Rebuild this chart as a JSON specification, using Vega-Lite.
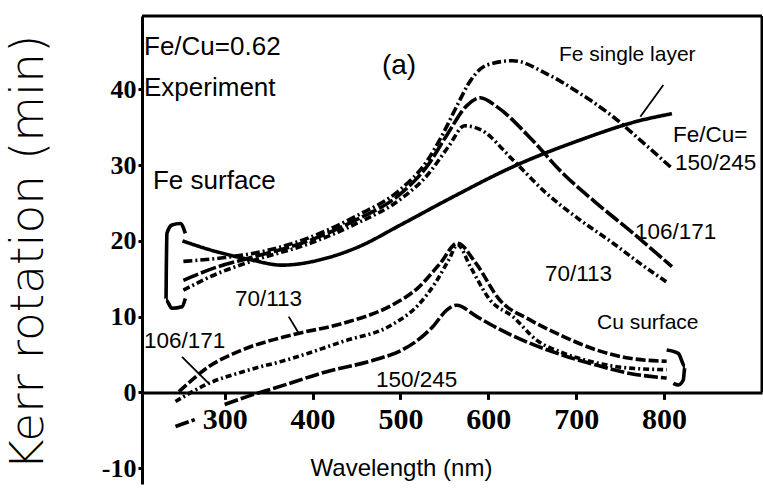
{
  "$schema": "https://vega.github.io/schema/vega-lite/v6.json",
  "width": 620,
  "height": 468,
  "autosize": {"type": "none"},
  "padding": {"left": 142, "top": 16, "right": 1, "bottom": 9},
  "background": "white",
  "config": {
    "view": {"stroke": null},
    "axis": {"grid": false, "domainColor": "black", "tickColor": "black", "labelColor": "black", "titleColor": "black"}
  },
  "datasets": {
    "curves": [
      {"s": "Fe single", "x": 252, "y": 20.0}, {"s": "Fe single", "x": 290, "y": 18.6}, {"s": "Fe single", "x": 330, "y": 17.5}, {"s": "Fe single", "x": 365, "y": 16.8}, {"s": "Fe single", "x": 415, "y": 17.7}, {"s": "Fe single", "x": 452, "y": 19.2}, {"s": "Fe single", "x": 500, "y": 22.1}, {"s": "Fe single", "x": 553, "y": 25.4}, {"s": "Fe single", "x": 632, "y": 30.0}, {"s": "Fe single", "x": 704, "y": 33.3}, {"s": "Fe single", "x": 773, "y": 35.9}, {"s": "Fe single", "x": 809, "y": 36.8},
      {"s": "Fe 150/245", "x": 253, "y": 17.3}, {"s": "Fe 150/245", "x": 300, "y": 17.8}, {"s": "Fe 150/245", "x": 330, "y": 18.3}, {"s": "Fe 150/245", "x": 400, "y": 20.6}, {"s": "Fe 150/245", "x": 450, "y": 23.3}, {"s": "Fe 150/245", "x": 500, "y": 26.8}, {"s": "Fe 150/245", "x": 530, "y": 30.5}, {"s": "Fe 150/245", "x": 550, "y": 34.5}, {"s": "Fe 150/245", "x": 565, "y": 38.0}, {"s": "Fe 150/245", "x": 580, "y": 41.2}, {"s": "Fe 150/245", "x": 598, "y": 43.2}, {"s": "Fe 150/245", "x": 628, "y": 43.8}, {"s": "Fe 150/245", "x": 666, "y": 42.1}, {"s": "Fe 150/245", "x": 704, "y": 39.5}, {"s": "Fe 150/245", "x": 742, "y": 36.4}, {"s": "Fe 150/245", "x": 773, "y": 33.3}, {"s": "Fe 150/245", "x": 809, "y": 29.6},
      {"s": "Fe 106/171", "x": 253, "y": 14.8}, {"s": "Fe 106/171", "x": 290, "y": 16.5}, {"s": "Fe 106/171", "x": 330, "y": 17.8}, {"s": "Fe 106/171", "x": 400, "y": 20.2}, {"s": "Fe 106/171", "x": 450, "y": 22.8}, {"s": "Fe 106/171", "x": 500, "y": 26.2}, {"s": "Fe 106/171", "x": 530, "y": 29.8}, {"s": "Fe 106/171", "x": 553, "y": 34.0}, {"s": "Fe 106/171", "x": 575, "y": 37.8}, {"s": "Fe 106/171", "x": 591, "y": 38.9}, {"s": "Fe 106/171", "x": 610, "y": 37.7}, {"s": "Fe 106/171", "x": 647, "y": 33.7}, {"s": "Fe 106/171", "x": 685, "y": 28.9}, {"s": "Fe 106/171", "x": 723, "y": 25.0}, {"s": "Fe 106/171", "x": 765, "y": 21.0}, {"s": "Fe 106/171", "x": 809, "y": 16.6},
      {"s": "Fe 70/113", "x": 253, "y": 13.5}, {"s": "Fe 70/113", "x": 290, "y": 15.6}, {"s": "Fe 70/113", "x": 330, "y": 17.3}, {"s": "Fe 70/113", "x": 400, "y": 19.8}, {"s": "Fe 70/113", "x": 450, "y": 22.3}, {"s": "Fe 70/113", "x": 500, "y": 25.5}, {"s": "Fe 70/113", "x": 530, "y": 28.6}, {"s": "Fe 70/113", "x": 555, "y": 32.5}, {"s": "Fe 70/113", "x": 573, "y": 35.2}, {"s": "Fe 70/113", "x": 591, "y": 34.7}, {"s": "Fe 70/113", "x": 628, "y": 30.7}, {"s": "Fe 70/113", "x": 666, "y": 26.3}, {"s": "Fe 70/113", "x": 704, "y": 22.8}, {"s": "Fe 70/113", "x": 742, "y": 19.7}, {"s": "Fe 70/113", "x": 773, "y": 17.0}, {"s": "Fe 70/113", "x": 805, "y": 14.4},
      {"s": "Cu 70/113", "x": 248, "y": 0.1}, {"s": "Cu 70/113", "x": 282, "y": 3.4}, {"s": "Cu 70/113", "x": 320, "y": 5.6}, {"s": "Cu 70/113", "x": 377, "y": 7.6}, {"s": "Cu 70/113", "x": 434, "y": 9.1}, {"s": "Cu 70/113", "x": 490, "y": 11.5}, {"s": "Cu 70/113", "x": 520, "y": 13.8}, {"s": "Cu 70/113", "x": 545, "y": 17.0}, {"s": "Cu 70/113", "x": 565, "y": 19.7}, {"s": "Cu 70/113", "x": 585, "y": 17.2}, {"s": "Cu 70/113", "x": 613, "y": 12.2}, {"s": "Cu 70/113", "x": 647, "y": 9.6}, {"s": "Cu 70/113", "x": 685, "y": 7.4}, {"s": "Cu 70/113", "x": 723, "y": 5.6}, {"s": "Cu 70/113", "x": 761, "y": 4.5}, {"s": "Cu 70/113", "x": 803, "y": 4.1},
      {"s": "Cu 106/171", "x": 244, "y": -1.2}, {"s": "Cu 106/171", "x": 282, "y": 1.2}, {"s": "Cu 106/171", "x": 320, "y": 2.7}, {"s": "Cu 106/171", "x": 377, "y": 4.5}, {"s": "Cu 106/171", "x": 434, "y": 6.7}, {"s": "Cu 106/171", "x": 490, "y": 8.9}, {"s": "Cu 106/171", "x": 520, "y": 11.5}, {"s": "Cu 106/171", "x": 540, "y": 14.5}, {"s": "Cu 106/171", "x": 555, "y": 17.5}, {"s": "Cu 106/171", "x": 565, "y": 19.5}, {"s": "Cu 106/171", "x": 580, "y": 16.5}, {"s": "Cu 106/171", "x": 602, "y": 12.2}, {"s": "Cu 106/171", "x": 628, "y": 10.0}, {"s": "Cu 106/171", "x": 655, "y": 6.9}, {"s": "Cu 106/171", "x": 685, "y": 5.2}, {"s": "Cu 106/171", "x": 723, "y": 3.9}, {"s": "Cu 106/171", "x": 761, "y": 3.2}, {"s": "Cu 106/171", "x": 803, "y": 3.0},
      {"s": "Cu 150/245a", "x": 244, "y": -4.5}, {"s": "Cu 150/245a", "x": 266, "y": -3.6},
      {"s": "Cu 150/245", "x": 300, "y": -1.6}, {"s": "Cu 150/245", "x": 332, "y": -0.3}, {"s": "Cu 150/245", "x": 358, "y": 0.6}, {"s": "Cu 150/245", "x": 415, "y": 2.7}, {"s": "Cu 150/245", "x": 471, "y": 4.3}, {"s": "Cu 150/245", "x": 502, "y": 5.6}, {"s": "Cu 150/245", "x": 515, "y": 6.5}, {"s": "Cu 150/245", "x": 537, "y": 8.7}, {"s": "Cu 150/245", "x": 553, "y": 10.9}, {"s": "Cu 150/245", "x": 564, "y": 11.5}, {"s": "Cu 150/245", "x": 587, "y": 10.0}, {"s": "Cu 150/245", "x": 610, "y": 8.5}, {"s": "Cu 150/245", "x": 647, "y": 6.5}, {"s": "Cu 150/245", "x": 685, "y": 4.9}, {"s": "Cu 150/245", "x": 723, "y": 3.6}, {"s": "Cu 150/245", "x": 761, "y": 2.5}, {"s": "Cu 150/245", "x": 803, "y": 1.9}
    ],
    "brackets": [
      {"s": "Fe bracket", "o": 1, "x": 255.2, "y": 21.0}, {"s": "Fe bracket", "o": 2, "x": 249.5, "y": 22.3}, {"s": "Fe bracket", "o": 3, "x": 240.0, "y": 22.1}, {"s": "Fe bracket", "o": 4, "x": 234.3, "y": 21.0}, {"s": "Fe bracket", "o": 5, "x": 233.6, "y": 16.5}, {"s": "Fe bracket", "o": 6, "x": 233.2, "y": 12.2}, {"s": "Fe bracket", "o": 7, "x": 240.0, "y": 11.1}, {"s": "Fe bracket", "o": 8, "x": 251.4, "y": 11.3}, {"s": "Fe bracket", "o": 9, "x": 255.2, "y": 12.4},
      {"s": "Cu bracket", "o": 1, "x": 803.0, "y": 5.6}, {"s": "Cu bracket", "o": 2, "x": 816.2, "y": 5.15}, {"s": "Cu bracket", "o": 3, "x": 823.8, "y": 3.4}, {"s": "Cu bracket", "o": 4, "x": 821.9, "y": 1.64}, {"s": "Cu bracket", "o": 5, "x": 816.2, "y": 0.98}, {"s": "Cu bracket", "o": 6, "x": 810.6, "y": 1.2}
    ],
    "leaders": [
      {"s": "single", "x": 773.0, "y": 36.4}, {"s": "single", "x": 799.2, "y": 40.6},
      {"s": "cu70", "x": 372.9, "y": 10.0}, {"s": "cu70", "x": 384.3, "y": 7.8},
      {"s": "cu106", "x": 251.4, "y": 4.7}, {"s": "cu106", "x": 281.8, "y": 1.2}
    ],
    "labels": [
      {"t": "Fe/Cu=0.62", "k": "note", "x": 208.2, "y": 45.6},
      {"t": "Experiment", "k": "note", "x": 208.2, "y": 40.2},
      {"t": "(a)", "k": "panel", "x": 498.4, "y": 43.1},
      {"t": "Fe surface", "k": "note", "x": 218.4, "y": 27.9},
      {"t": "Fe single layer", "k": "word", "x": 680.5, "y": 44.5},
      {"t": "Fe/Cu=", "k": "series", "x": 810.2, "y": 34.0},
      {"t": "150/245", "k": "series", "x": 812.5, "y": 30.3},
      {"t": "106/171", "k": "series", "x": 767.0, "y": 21.2},
      {"t": "70/113", "k": "series", "x": 664.5, "y": 15.6},
      {"t": "70/113", "k": "series", "x": 311.7, "y": 12.3},
      {"t": "106/171", "k": "series", "x": 208.2, "y": 6.8},
      {"t": "150/245", "k": "series", "x": 472.2, "y": 1.6},
      {"t": "Cu surface", "k": "word", "x": 723.7, "y": 9.2}
    ]
  },
  "layer": [
    {
      "data": {"name": "curves"},
      "mark": {"type": "line", "color": "black", "strokeWidth": 3.6, "interpolate": "monotone"},
      "encoding": {
        "x": {"field": "x", "type": "quantitative", "scale": {"domain": [205.9, 911.5], "nice": false, "zero": false},
          "axis": {"values": [300, 400, 500, 600, 700, 800], "offset": -91.6, "title": "Wavelength (nm)", "titleFont": "Liberation Sans", "titleFontSize": 24, "titleFontWeight": "normal", "titleX": 259, "titleY": 76, "titleBaseline": "middle", "titleAlign": "center", "labelFont": "Liberation Serif", "labelFontWeight": "bold", "labelFontSize": 30, "labelPadding": 5, "tickSize": 7, "tickWidth": 3, "domainWidth": 3, "labelExpr": "'' + datum.value"}},
        "y": {"field": "y", "type": "quantitative", "scale": {"domain": [-12.1, 49.7], "nice": false, "zero": false},
          "axis": {"values": [-10, 0, 10, 20, 30, 40], "title": "Kerr rotation (min)", "titleFont": "DejaVu Sans", "titleFontSize": 47, "titleFontWeight": 200, "titleX": -114, "titleY": 236, "titleAngle": -90, "titleAlign": "center", "titleBaseline": "middle", "labelFont": "Liberation Serif", "labelFontWeight": "bold", "labelFontSize": 26, "labelPadding": 2, "tickSize": 4, "tickWidth": 3, "domainWidth": 3, "labelExpr": "'' + datum.value"}},
        "detail": {"field": "s"},
        "strokeDash": {"field": "s", "type": "nominal", "legend": null,
          "scale": {"domain": ["Fe single", "Fe 150/245", "Fe 106/171", "Fe 70/113", "Cu 70/113", "Cu 106/171", "Cu 150/245", "Cu 150/245a"],
                    "range": [[1, 0], [9, 3, 2, 3], [16, 3], [7, 3, 2, 3], [10, 3], [6, 3, 2, 3], [14, 3], [14, 3]]}}
      }
    },
    {
      "data": {"name": "brackets"},
      "mark": {"type": "line", "color": "black", "strokeWidth": 3.6, "interpolate": "monotone"},
      "encoding": {
        "x": {"field": "x", "type": "quantitative"},
        "y": {"field": "y", "type": "quantitative"},
        "detail": {"field": "s"},
        "order": {"field": "o"}
      }
    },
    {
      "data": {"name": "leaders"},
      "mark": {"type": "line", "color": "black", "strokeWidth": 1.8},
      "encoding": {
        "x": {"field": "x", "type": "quantitative"},
        "y": {"field": "y", "type": "quantitative"},
        "detail": {"field": "s"}
      }
    },
    {
      "data": {"values": [{}]},
      "mark": {"type": "rule", "color": "black", "strokeWidth": 3},
      "encoding": {"y": {"datum": 49.7, "type": "quantitative"}}
    },
    {
      "data": {"values": [{}]},
      "mark": {"type": "rule", "color": "black", "strokeWidth": 3},
      "encoding": {
        "x": {"datum": 911.5, "type": "quantitative"},
        "y": {"datum": 49.7, "type": "quantitative"},
        "y2": {"datum": 0.01}
      }
    },
    {
      "data": {"name": "labels"},
      "transform": [{"filter": "datum.k === 'note'"}],
      "mark": {"type": "text", "align": "left", "baseline": "middle", "font": "Liberation Sans", "fontSize": 26, "color": "black"},
      "encoding": {
        "x": {"field": "x", "type": "quantitative"},
        "y": {"field": "y", "type": "quantitative"},
        "text": {"field": "t"}
      }
    },
    {
      "data": {"name": "labels"},
      "transform": [{"filter": "datum.k === 'panel'"}],
      "mark": {"type": "text", "align": "center", "baseline": "middle", "font": "Liberation Sans", "fontSize": 28, "color": "black"},
      "encoding": {
        "x": {"field": "x", "type": "quantitative"},
        "y": {"field": "y", "type": "quantitative"},
        "text": {"field": "t"}
      }
    },
    {
      "data": {"name": "labels"},
      "transform": [{"filter": "datum.k === 'word'"}],
      "mark": {"type": "text", "align": "left", "baseline": "middle", "font": "Liberation Sans", "fontSize": 21, "color": "black"},
      "encoding": {
        "x": {"field": "x", "type": "quantitative"},
        "y": {"field": "y", "type": "quantitative"},
        "text": {"field": "t"}
      }
    },
    {
      "data": {"name": "labels"},
      "transform": [{"filter": "datum.k === 'series'"}],
      "mark": {"type": "text", "align": "left", "baseline": "middle", "font": "Liberation Sans", "fontSize": 22.5, "color": "black"},
      "encoding": {
        "x": {"field": "x", "type": "quantitative"},
        "y": {"field": "y", "type": "quantitative"},
        "text": {"field": "t"}
      }
    }
  ]
}
